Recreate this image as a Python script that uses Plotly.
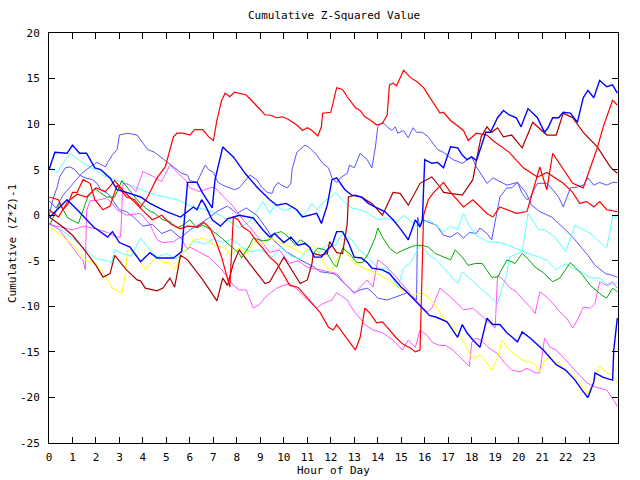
import plotly.graph_objects as go

# ---- data: (hour, cumulative value) pairs ----
blue_a = [(0.04,-0.2),(0.47,0.9),(0.77,1.7),(1.2,0.6),(1.9,-1.3),(2.5,-2.4),(2.7,-1.8),(3.0,-3.0),(3.45,-3.5),
          (3.9,-5.1),(4.3,-4.1),(4.6,-4.7),(5.3,-4.7),(5.65,-4.0),(5.9,3.6),(6.3,3.6),(6.55,2.4),(6.95,0.8),(7.07,3.9),
          (7.4,7.5),(7.85,6.4),(8.35,4.6),(8.85,3.1),(9.4,1.7),(9.7,1.1),(10.1,1.3),(10.55,0.6),(10.8,-0.2),(11.4,0.2),
          (11.6,-0.9),(11.85,1.1),(12.05,3.9),(12.25,4.1),(12.6,2.8),(12.9,2.2),(13.3,2.0),(13.6,1.3),(13.9,0.9),
          (14.3,0.4),(14.65,-0.5),(15.0,-1.6),(15.3,-2.7),(15.6,-0.5),(15.8,-1.3),(15.9,-0.5),(16.0,6.1),(16.3,5.7),
          (16.55,5.8),(16.8,5.2),(17.1,7.5),(17.4,7.4),(17.6,6.6),(17.8,6.1),(18.0,6.4),(18.2,6.0),(18.4,7.5),(18.6,9.1),
          (18.8,9.1),(19.1,10.7),(19.35,11.5),(19.6,11.0),(19.9,10.7),(20.1,9.7),(20.4,11.7),(20.8,10.7),(21.1,9.1),
          (21.25,9.6),(21.45,10.7),(21.7,10.7),(21.9,11.3),(22.2,11.2),(22.5,10.2),(22.75,12.9),(22.95,13.7),(23.2,12.9),
          (23.45,14.8),(23.75,14.1),(24.0,14.3),(24.2,13.4)]

blue_b = [(0.0,5.0),(0.25,6.9),(0.77,6.8),(1.0,7.7),(1.3,6.8),(1.6,6.8),(1.95,5.2),(2.2,5.0),(2.6,4.1),(2.9,2.8),
          (3.3,2.5),(3.9,2.0),(4.3,1.3),(5.0,0.4),(5.6,-0.2),(6.0,0.6),(6.15,0.9),(6.3,0.6),(6.5,1.7),(6.65,1.1),
          (6.95,-0.5),(7.3,-1.2),(7.6,-0.4),(8.1,0.0),(8.7,-0.3),(9.1,-1.6),(9.4,-2.4),(9.6,-2.0),(10.0,-3.0),(10.3,-2.4),
          (10.6,-3.3),(10.9,-3.1),(11.1,-3.5),(11.3,-4.6),(11.6,-4.6),(11.85,-3.8),(12.05,-3.3),(12.25,-1.8),(12.5,-1.8),
          (12.75,-3.0),(13.0,-4.6),(13.3,-4.7),(13.55,-5.2),(13.75,-5.8),(14.2,-6.0),(14.5,-6.4),(14.8,-7.3),(15.0,-7.9),
          (15.15,-8.2),(15.45,-9.0),(15.9,-10.1),(16.2,-11.0),(16.5,-11.2),(16.95,-11.7),(17.4,-13.4),(17.6,-12.0),
          (17.8,-12.9),(18.05,-13.7),(18.35,-14.5),(18.65,-11.3),(18.9,-12.0),(19.2,-12.0),(19.5,-12.9),(19.95,-13.9),
          (20.15,-12.8),(20.5,-13.5),(21.05,-14.8),(21.6,-16.4),(22.0,-17.0),(22.4,-18.1),(22.7,-19.2),(22.95,-20.0),
          (23.2,-18.3),(23.25,-17.3),(23.6,-17.8),(24.0,-18.1),(24.05,-14.8),(24.1,-13.5),(24.2,-11.3)]

mblue_a = [(0.0,1.6),(0.3,0.8),(0.6,2.2),(1.0,3.4),(1.4,4.6),(1.8,5.4),(2.05,5.8),(2.4,5.3),(2.5,5.8),(2.7,6.6),
           (2.9,7.2),(3.0,8.8),(3.35,9.0),(3.75,8.8),(3.9,8.3),(4.2,7.2),(4.5,6.9),(4.8,6.3),(5.0,5.8),(5.15,5.5),
           (5.35,5.2),(5.65,4.6),(5.9,4.4),(6.0,3.8),(6.3,3.6),(6.65,5.5),(6.8,5.0),(7.0,4.7),(7.2,3.6),(7.4,3.3),
           (7.7,3.0),(7.9,2.8),(8.1,3.0),(8.45,4.1),(8.55,4.4),(8.85,3.9),(9.05,3.1),(9.3,2.5),(9.5,2.4),(9.6,3.1),
           (9.75,3.6),(9.9,3.3),(10.15,3.0),(10.3,3.5),(10.35,5.0),(10.55,6.9),(10.9,7.7),(11.1,7.4),(11.4,6.6),
           (11.65,5.7),(11.9,5.2),(12.05,4.1),(12.25,3.6),(12.4,4.1),(12.7,4.6),(12.8,5.5),(13.0,5.2),(13.25,6.8),
           (13.55,6.1),(13.75,5.2),(13.9,7.5),(14.0,9.7),(14.2,10.2),(14.4,9.7),(14.6,9.3),(14.75,9.7),(14.85,9.0),
           (15.1,9.3),(15.3,8.5),(15.5,9.6),(15.65,9.1),(15.9,9.1),(16.15,8.6),(16.35,7.9),(16.55,7.2),(16.8,6.9),
           (17.2,6.1),(17.6,5.7),(18.0,6.4),(18.2,5.3),(18.65,3.5),(18.9,4.1),(19.5,3.3),(19.95,3.6),(20.3,2.5),
           (20.55,1.1),(20.9,0.4),(21.4,-0.2),(22.0,-1.6),(22.4,-2.7),(22.95,-4.4),(23.25,-5.5),(23.7,-6.4),(24.0,-6.6),
           (24.2,-6.8)]

mblue_b = [(0.0,0.0),(0.2,2.0),(0.35,3.1),(0.45,4.2),(0.7,5.2),(0.9,5.3),(1.1,5.0),(1.3,4.4),(1.55,4.1),(1.85,3.9),
           (2.05,3.5),(2.2,2.8),(2.5,2.4),(2.7,1.7),(3.0,0.6),(3.3,0.4),(3.6,-0.2),(4.0,-1.2),(4.4,-1.0),(4.8,-2.0),
           (5.2,-1.6),(5.6,-2.5),(6.0,-1.6),(6.4,-1.0),(6.8,-0.3),(7.2,0.5),(7.6,1.0),(8.0,0.2),(8.4,0.8),(8.85,0.0),
           (9.3,-1.6),(9.55,-2.7),(10.1,-4.0),(10.7,-4.9),(11.3,-5.7),(11.55,-6.2),(12.1,-6.4),(12.25,-6.6),(12.5,-7.3),
           (12.8,-8.0),(13.0,-8.5),(13.25,-8.2),(13.55,-8.0),(13.75,-8.4),(14.0,-9.1),(14.4,-9.3),(14.65,-9.1),
           (14.95,-8.8),(15.25,-8.5),(15.5,-9.0),(15.65,-9.3),(15.7,-0.2),(15.8,-1.3),(15.9,-0.5),(16.2,-0.8),
           (16.5,-1.1),(16.8,-2.2),(17.1,-2.4),(17.4,-1.9),(17.65,-2.5),(17.9,-1.9),(18.2,-2.0),(18.35,-1.4),
           (18.65,-2.0),(18.85,-2.7),(19.1,0.9),(19.2,2.0),(19.5,3.0),(19.7,3.0),(19.95,3.6),(20.15,2.4),(20.35,1.7),
           (20.5,2.0),(20.8,3.5),(21.2,3.5),(21.45,2.8),(21.7,2.0),(21.9,0.9),(22.2,3.0),(22.5,3.1),(22.75,3.3),
           (22.95,4.1),(23.2,3.3),(23.45,3.6),(23.75,3.3),(24.0,3.6),(24.2,3.6)]

red_a = [(0.0,2.0),(0.4,1.7),(0.6,0.6),(0.8,1.2),(1.0,2.5),(1.2,2.5),(1.45,3.9),(1.75,3.5),(1.95,1.7),(2.3,0.6),
         (2.6,1.0),(2.9,3.3),(3.3,2.0),(3.65,1.7),(3.9,0.9),(4.2,2.0),(4.6,4.1),(4.95,5.3),(5.3,8.6),(5.45,9.0),
         (5.7,9.0),(6.0,8.8),(6.2,9.4),(6.55,9.4),(6.8,8.6),(7.0,8.2),(7.15,10.4),(7.35,12.6),(7.5,13.4),(7.7,13.0),
         (7.9,13.5),(8.1,13.4),(8.4,13.2),(8.7,12.4),(9.0,11.5),(9.2,11.0),(9.4,11.0),(9.7,10.7),(9.95,10.8),
         (10.2,10.5),(10.55,9.9),(10.8,9.3),(11.0,9.6),(11.2,9.3),(11.45,8.7),(11.6,9.7),(11.65,11.2),(12.0,11.3),
         (12.25,14.0),(12.5,13.8),(12.7,13.0),(13.05,11.8),(13.25,11.5),(13.45,10.8),(13.65,10.5),(13.95,9.9),
         (14.2,10.1),(14.4,11.0),(14.5,14.3),(14.65,14.5),(14.8,14.2),(15.1,15.9),(15.4,15.1),(15.7,14.6),
         (15.95,14.0),(16.15,13.2),(16.5,11.9),(16.65,11.2),(16.8,11.3),(17.1,10.4),(17.65,9.3),(17.85,8.2),
         (18.2,9.0),(18.65,8.8),(18.9,8.2),(19.6,6.9),(20.2,5.2),(20.8,4.2),(21.2,4.7),(21.9,3.5),(22.3,2.5),
         (22.6,1.3),(22.9,1.5),(23.2,0.9),(23.45,1.5),(23.75,0.6),(24.2,0.4)]

red_b = [(0.0,0.6),(0.4,-0.2),(0.8,1.5),(1.2,2.3),(1.6,2.0),(2.0,3.0),(2.4,2.6),(2.8,3.8),(3.2,2.6),(3.6,1.5),
         (4.0,0.5),(4.4,-0.5),(4.8,0.0),(5.2,-1.0),(5.6,-1.5),(5.9,-1.2),(6.3,-1.3),(6.6,-0.8),(6.85,-1.4),
         (7.1,-2.8),(7.35,-4.6),(7.55,-6.5),(7.7,-7.9),(7.85,-0.2),(8.05,-0.5),(8.25,-1.3),(8.55,-1.8),(8.85,-2.9),
         (9.1,-3.6),(9.4,-4.6),(9.7,-5.3),(10.05,-6.8),(10.25,-7.7),(10.6,-7.9),(10.9,-8.8),(11.2,-9.6),(11.55,-10.7),
         (11.9,-12.3),(12.1,-12.6),(12.25,-12.0),(12.5,-12.9),(12.8,-14.0),(13.05,-14.8),(13.25,-13.4),(13.45,-10.2),
         (13.65,-10.7),(13.95,-11.8),(14.2,-11.7),(14.5,-12.6),(14.8,-13.5),(15.1,-14.2),(15.4,-14.6),(15.6,-15.0),
         (15.8,-14.8),(15.95,0.0),(16.15,1.7),(16.35,2.4),(16.8,3.6),(17.1,2.5),(17.65,0.9),(18.05,1.7),(18.65,0.2),
         (18.9,-0.2),(19.2,0.9),(19.9,0.2),(20.35,0.4),(20.5,1.7),(20.9,5.3),(21.2,2.8),(21.45,6.8),(22.3,3.5),
         (22.75,3.0),(23.35,7.4),(23.6,9.7),(24.0,12.6),(24.2,12.1)]

darkred = [(0.0,-0.2),(0.5,-1.1),(1.0,-2.2),(1.45,-3.6),(2.0,-5.5),(2.3,-6.8),(2.6,-6.4),(2.8,-4.4),(3.3,-6.0),
           (3.75,-7.1),(3.9,-7.2),(4.1,-8.0),(4.6,-8.3),(4.85,-8.0),(5.15,-6.9),(5.35,-7.9),(5.6,-4.4),(5.9,-4.9),
           (6.55,-7.1),(7.15,-9.4),(7.4,-6.9),(7.6,-7.7),(7.85,-5.3),(8.1,-3.8),(8.6,-5.5),(9.2,-7.5),(9.4,-7.3),
           (10.0,-4.6),(10.7,-7.5),(11.0,-7.1),(11.2,-5.3),(11.25,-4.2),(11.55,-4.4),(11.85,-4.2),(11.95,-2.9),
           (12.25,-4.1),(12.5,-4.2),(12.7,-0.9),(12.75,2.0),(13.05,2.2),(13.3,2.0),(13.75,1.3),(14.2,0.0),(14.65,2.5),
           (14.95,2.4),(15.3,1.1),(15.8,3.5),(16.3,4.2),(16.65,3.1),(16.8,2.5),(17.6,2.2),(18.05,3.9),(18.2,6.0),
           (18.4,8.6),(18.65,9.7),(18.85,9.1),(19.1,9.6),(19.35,8.6),(19.7,8.8),(20.15,7.4),(20.6,10.2),(21.2,8.8),
           (21.6,8.8),(21.9,11.2),(22.3,10.7),(22.75,9.1),(23.35,7.5),(23.9,5.3),(24.2,4.6)]

green = [(0.05,-1.0),(0.45,1.3),(0.8,-0.3),(1.25,-0.9),(1.65,2.0),(1.95,2.9),(2.45,2.0),(2.8,2.0),(3.1,3.8),
         (3.25,3.3),(3.75,1.7),(4.2,0.6),(4.5,0.2),(4.85,-0.5),(5.15,-0.7),(5.45,-1.4),(5.7,-1.1),(6.0,-0.5),
         (6.3,-1.4),(6.55,-1.1),(6.9,-1.6),(7.3,-2.4),(7.6,-3.1),(7.85,-3.6),(8.1,-4.2),(8.2,-4.7),(8.5,-3.5),
         (8.7,-2.5),(9.1,-2.8),(9.4,-2.7),(9.6,-2.0),(9.9,-1.8),(10.2,-2.4),(10.5,-3.3),(10.7,-2.7),(11.0,-3.2),
         (11.25,-4.2),(11.45,-3.6),(11.75,-3.8),(12.1,-5.3),(12.25,-5.7),(12.5,-3.6),(12.8,-4.2),(13.1,-5.2),
         (13.35,-5.2),(13.6,-4.2),(13.9,-2.4),(14.0,-1.4),(14.2,-2.4),(14.5,-3.6),(14.8,-4.2),(15.1,-3.8),
         (15.4,-3.5),(15.6,-3.3),(15.9,-3.3),(16.15,-3.5),(16.45,-4.2),(16.8,-4.6),(17.1,-4.9),(17.3,-3.8),
         (17.6,-4.6),(17.85,-5.5),(18.15,-5.3),(18.45,-5.3),(18.85,-6.8),(19.1,-6.8),(19.5,-4.9),(19.85,-5.3),
         (20.15,-4.2),(20.4,-4.8),(20.7,-5.7),(21.05,-6.3),(21.45,-7.3),(21.75,-6.9),(22.2,-5.2),(22.4,-5.7),
         (22.7,-6.5),(23.05,-7.7),(23.55,-8.8),(23.75,-9.1),(24.0,-8.0),(24.2,-8.4)]

cyan_a = [(0.05,5.2),(0.35,4.7),(0.6,5.7),(0.9,6.8),(1.3,6.0),(1.6,5.5),(1.9,5.0),(2.3,4.4),(2.6,4.1),(3.15,3.6),
          (3.75,3.0),(4.3,2.4),(5.0,2.0),(5.45,1.7),(6.15,0.9),(6.7,0.6),(7.3,0.0),(7.85,-0.9),(8.1,-1.4),(8.5,-0.8),
          (8.85,0.4),(9.1,1.5),(9.4,0.2),(9.6,1.1),(10.0,0.5),(10.4,0.9),(10.75,-0.2),(11.0,0.5),(11.2,1.3),
          (11.4,0.6),(11.7,1.5),(12.0,2.0),(12.2,2.5),(12.6,1.4),(12.9,0.8),(13.25,0.6),(13.6,0.2),(14.0,-0.5),
          (14.4,-0.3),(14.8,-0.8),(15.1,0.0),(15.4,-0.6),(15.7,-1.3),(15.95,-0.8),(16.2,-0.5),(16.5,-1.2),
          (16.8,-1.8),(17.1,-1.2),(17.4,-1.6),(17.65,0.2),(17.9,-1.2),(18.2,-2.2),(18.65,-2.9),(19.2,-3.0),
          (19.55,-3.3),(20.2,-4.0),(20.8,-4.5),(21.2,-4.9),(21.6,-6.0),(22.0,-5.3),(22.3,-5.8),(22.7,-6.3),
          (23.1,-6.9),(23.45,-6.9),(23.8,-7.7),(24.2,-7.4)]

cyan_b = [(0.0,-1.0),(0.5,-1.6),(1.0,-2.5),(1.5,-3.6),(2.0,-4.8),(2.5,-5.0),(2.65,-5.3),(2.8,-3.8),(3.1,-4.2),
          (3.5,-4.5),(3.9,-2.5),(4.2,-3.5),(4.6,-4.6),(5.0,-4.2),(5.4,-4.8),(5.8,-4.0),(6.2,-2.8),(6.6,-3.2),
          (7.0,-2.6),(7.4,-3.0),(7.8,-2.6),(8.2,-3.5),(8.6,-4.0),(9.0,-3.8),(9.5,-4.6),(9.9,-3.5),(10.3,-4.5),
          (10.7,-4.8),(11.0,-3.8),(11.4,-4.2),(11.8,-3.3),(12.2,-3.3),(12.5,-2.0),(12.9,-2.7),(13.2,-3.8),
          (13.6,-4.6),(14.0,-5.8),(14.4,-5.8),(14.85,-7.9),(15.1,-5.8),(15.4,-5.2),(15.8,-3.3),(16.2,-4.4),
          (16.5,-4.9),(17.1,-6.6),(17.4,-7.5),(17.6,-6.2),(18.15,-7.5),(18.7,-8.8),(19.1,-9.7),(19.5,-6.4),
          (19.6,-4.6),(20.15,-4.0),(20.4,0.2),(20.85,-1.6),(21.1,-1.6),(21.55,-2.4),(22.0,-4.0),(22.4,-1.1),
          (23.05,-2.0),(23.75,-3.6),(24.0,-0.2),(24.2,-0.2)]

pink_a = [(0.0,-1.0),(0.5,-1.3),(1.0,-1.6),(1.5,-1.2),(2.0,-1.5),(2.5,-1.9),(2.9,-2.4),(3.05,-2.4),(3.15,3.5),
          (3.4,3.4),(3.7,2.6),(4.0,4.8),(4.4,4.3),(4.8,3.7),(5.15,5.5),(5.5,4.6),(5.8,3.9),(6.0,3.0),(6.4,2.6),
          (6.85,3.0),(7.05,3.1),(7.4,2.1),(7.8,1.1),(8.2,-0.3),(8.9,-2.4),(9.4,-4.1),(9.8,-3.8),(10.25,-5.3),
          (10.6,-5.0),(11.0,-5.7),(11.5,-6.0),(12.25,-6.4),(12.6,-7.5),(13.0,-8.6),(13.55,-7.1),(13.8,-7.9),
          (14.0,-4.9),(14.4,-5.7),(14.65,-6.4),(14.95,-7.3),(15.25,-8.2),(15.5,-9.0),(15.9,-10.1),(16.1,-10.6),
          (16.3,-10.2),(16.45,-9.3),(16.65,-8.0),(17.1,-9.0),(17.4,-9.7),(17.65,-10.4),(18.05,-10.2),(18.5,-11.2),
          (18.8,-11.9),(19.0,-12.4),(19.1,-6.6),(19.35,-7.1),(19.6,-7.9),(19.9,-8.4),(20.2,-9.3),(20.5,-10.1),
          (20.7,-10.8),(20.9,-8.4),(21.2,-9.0),(21.5,-9.8),(21.75,-10.6),(22.05,-11.3),(22.3,-12.4),(22.5,-11.5),
          (22.75,-10.1),(23.05,-10.2),(23.25,-9.7),(23.45,-7.3),(23.75,-7.7),(24.0,-7.3),(24.2,-8.0)]

pink_b = [(0.0,-0.9),(0.45,-1.6),(1.2,-4.2),(1.45,-5.0),(1.55,-6.0),(1.6,0.5),(1.75,1.6),(2.0,1.6),(2.45,1.9),
          (2.7,1.3),(2.9,0.6),(3.3,0.0),(3.9,0.2),(4.3,-1.0),(4.6,-2.7),(4.85,-3.0),(5.3,-2.9),(5.6,-2.4),
          (5.9,-3.8),(6.0,-3.5),(6.8,-4.6),(7.3,-5.8),(7.6,-6.8),(7.85,-7.7),(8.1,-8.2),(8.4,-8.2),(8.7,-10.2),
          (9.0,-9.7),(9.2,-9.0),(9.7,-8.0),(10.0,-7.7),(10.25,-7.5),(10.6,-8.2),(11.0,-9.3),(11.4,-10.2),
          (11.65,-9.7),(12.05,-9.3),(12.25,-8.5),(12.7,-9.3),(12.95,-10.4),(13.45,-12.0),(13.8,-12.6),(14.2,-12.9),
          (14.65,-13.7),(15.05,-14.8),(15.3,-13.7),(15.6,-14.5),(15.8,-12.6),(16.1,-13.2),(16.35,-14.0),
          (16.65,-14.3),(16.9,-14.3),(17.2,-14.8),(17.65,-15.9),(17.9,-16.6),(18.0,-14.0),(18.15,-13.5),
          (18.4,-13.7),(18.7,-14.5),(19.1,-15.2),(19.4,-16.2),(19.7,-17.0),(20.05,-17.2),(20.35,-16.8),
          (20.7,-17.3),(20.9,-17.3),(21.1,-13.5),(21.35,-14.5),(21.6,-14.8),(21.9,-15.6),(22.2,-16.4),(22.5,-17.3),
          (22.9,-18.4),(23.2,-18.8),(23.45,-19.0),(23.75,-19.2),(24.1,-20.5),(24.2,-21.0)]

yellow = [(0.05,-1.3),(0.5,-2.2),(1.0,-3.2),(1.6,-5.0),(2.0,-5.3),(2.3,-6.2),(2.7,-8.0),(3.1,-8.6),(3.25,-6.5),
          (3.35,-3.8),(3.7,-4.2),(4.1,-6.0),(4.35,-5.2),(4.6,-4.6),(4.85,-5.2),(5.1,-5.2),(5.35,-6.0),(5.6,-4.6),
          (5.8,-3.8),(6.0,-3.3),(6.15,-2.7),(6.6,-2.5),(7.05,-3.3),(7.4,-3.5),(7.6,-3.8),(7.7,-4.4),(8.1,-3.6),
          (8.45,-4.2),(8.65,-3.3),(8.85,-2.7),(9.1,-3.3),(9.4,-2.4),(9.8,-3.0),(10.15,-3.3),(10.55,-3.8),
          (10.8,-4.2),(11.25,-3.3),(11.55,-4.4),(11.7,-5.2),(12.0,-6.3),(12.25,-4.9),(12.55,-3.6),(12.95,-5.2),
          (13.4,-5.8),(13.9,-6.3),(14.4,-7.0),(14.85,-7.9),(15.2,-8.4),(15.5,-8.8),(15.9,-8.5),(16.2,-9.1),
          (16.5,-10.1),(16.8,-11.3),(17.1,-11.9),(17.4,-12.8),(17.65,-13.9),(18.0,-15.6),(18.2,-15.6),(18.35,-15.3),
          (18.55,-15.9),(18.85,-17.0),(19.1,-15.6),(19.3,-13.7),(19.5,-14.5),(19.75,-15.1),(20.15,-15.9),
          (20.35,-16.1),(20.5,-16.1),(20.7,-16.4),(20.9,-17.2),(21.1,-15.9),(21.25,-15.6),(21.45,-15.9),
          (21.75,-16.4),(22.0,-17.0),(22.2,-17.3),(22.5,-18.1),(22.75,-19.0),(22.95,-19.6),(23.2,-18.3),
          (23.45,-16.5),(23.75,-17.3),(24.0,-17.5),(24.2,-18.4)]

x_ticks = list(range(0, 24))
y_ticks = [-25, -20, -15, -10, -5, 0, 5, 10, 15, 20]

series = [
    (mblue_a, "#5555ff", 1.0), (mblue_b, "#5555ff", 1.0),
    (cyan_a, "#55ffff", 1.0), (cyan_b, "#55ffff", 1.0),
    (pink_a, "#ff55ff", 1.0), (pink_b, "#ff55ff", 1.0),
    (yellow, "#ffff00", 1.0), (green, "#00aa00", 1.0),
    (darkred, "#aa0000", 1.2),
    (red_a, "#ff0000", 1.2), (red_b, "#ff0000", 1.2),
    (blue_a, "#0000ff", 1.4), (blue_b, "#0000ff", 1.4),
]

fig = go.Figure()
for pts, col, w in series:
    xs = [p[0] for p in pts]
    ys = [p[1] for p in pts]
    fig.add_trace(go.Scatter(x=xs, y=ys, mode="lines",
                             line=dict(color=col, width=w), showlegend=False,
                             hoverinfo="skip"))

font = dict(family="DejaVu Sans Mono", size=11, color="black")
fig.update_layout(
    width=640, height=480,
    margin=dict(l=49, r=22, t=33, b=37),
    paper_bgcolor="white", plot_bgcolor="white",
    font=font, showlegend=False,
    xaxis=dict(range=[0, 24.23], tickvals=x_ticks, ticktext=[str(t) for t in x_ticks],
               ticks="inside", ticklen=6, tickcolor="black", showline=True, linecolor="black",
               linewidth=1, mirror="ticks", showgrid=False, zeroline=False,
               ticklabelstandoff=4, tickfont=font),
    yaxis=dict(range=[-25, 20], tickvals=y_ticks, ticktext=[str(t) for t in y_ticks],
               ticks="inside", ticklen=6, tickcolor="black", showline=True, linecolor="black",
               linewidth=1, mirror="ticks", showgrid=False, zeroline=False,
               ticklabelstandoff=6, tickfont=font),
    annotations=[
        dict(text="Cumulative Z-Squared Value", x=0.5, y=(443 - 16) / 410, xref="paper", yref="paper",
             showarrow=False, xanchor="center", yanchor="middle", font=font),
        dict(text="Hour of Day", x=0.5, y=(443 - 470) / 410, xref="paper", yref="paper",
             showarrow=False, xanchor="center", yanchor="middle", font=font),
        dict(text="Cumulative (Z*Z)-1", x=(12 - 49) / 569, y=(443 - 244) / 410, xref="paper", yref="paper",
             showarrow=False, xanchor="center", yanchor="middle", textangle=-90, font=font),
    ],
)

fig.write_html("out.html")
